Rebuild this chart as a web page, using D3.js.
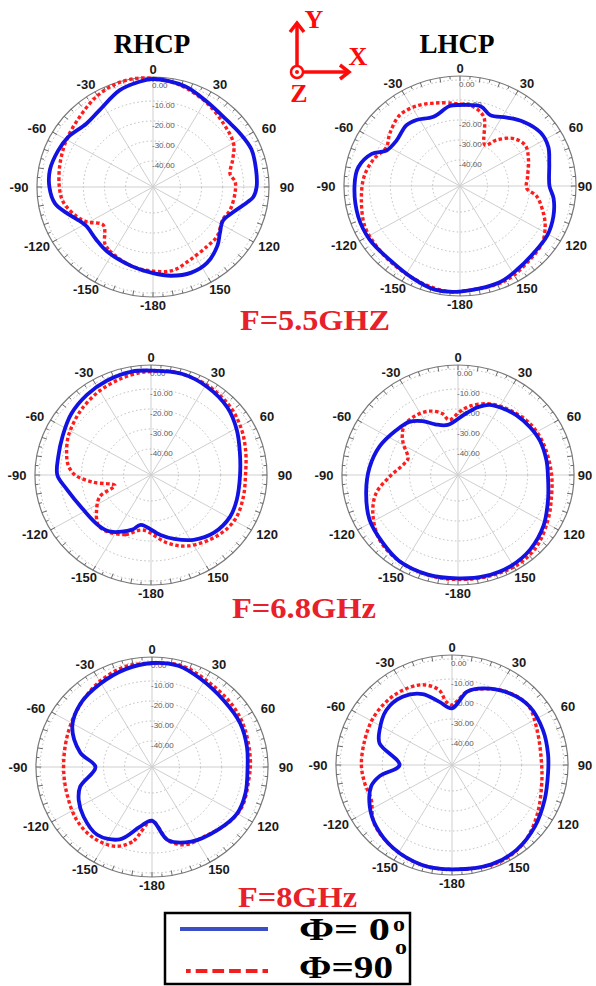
<!DOCTYPE html>
<html>
<head>
<meta charset="utf-8">
<script src="https://cdn.jsdelivr.net/npm/d3@7"></script>
<style>
  html, body { margin:0; padding:0; background:#fff; }
  svg { display:block; }
</style>
</head>
<body>
<div id="chart"></div>
<script>
// labels round each polar plot
var angleTicks = [0, 30, 60, 90, 120, 150, 180, -150, -120, -90, -60, -30];
var angleLabels = ["0", "30", "60", "90", "120", "150", "-180", "-150", "-120", "-90", "-60", "-30"];
var ringLevels = [0, -10, -20, -30, -40];
var ringLabels = ["0.00", "-10.00", "-20.00", "-30.00", "-40.00"];
var columnTitles = ["RHCP", "LHCP"];
var freqLabels = ["F=5.5GHZ", "F=6.8GHz", "F=8GHz"];
var legendLabels = ["\u03a6= 0", "\u03a6=90"];

// gain in dB against theta in degrees, [theta, dB]
var rhcp55_phi0 = [[-180,-9.9],[-166,-12.1],[-146,-14.1],[-134,-15.4],[-122,-15.9],[-118,-15],[-107.5,-10],[-100,-5.8],[-90,-3.9],[-80,-3.4],[-68,-4.5],[-58,-5.7],[-45,-8.3],[-34,-7.1],[-18,-2.1],[-7,0],[0,1],[17,-0.4],[31,-3.3],[47,-4.6],[57,-3.8],[68,-2.7],[80,-3.4],[90,-3.9],[96,-5.2],[100,-7.9],[108,-12.8],[117,-15.8],[126,-13.8],[134,-10.6],[146,-7.2],[157,-6.5],[169,-7.8]];
var rhcp55_phi90 = [[-166,-12.1],[-146,-15.3],[-141,-16.7],[-129,-22.7],[-119,-17.1],[-112,-13.9],[-100,-9.8],[-90,-8.6],[-75,-7.4],[-60,-5.7],[-45,-3.7],[-31,-0.5],[-20,1.3],[-10,1.9],[0,1.3],[9,0.3],[18,-1.2],[32,-4],[47,-7],[60.5,-9.1],[70,-12.8],[80,-15.9],[86,-14],[94,-14],[107.5,-14.7],[116,-16.1],[129,-13.9],[139,-13.8],[154,-12.6],[166,-10.4],[175,-10.5]];
var lhcp55_phi0 = [[-180,-0.2],[-167,0.2],[-154,-1.75],[-138,-3.3],[-122,-2.5],[-107.5,-2.4],[-90,-3],[-79,-3.9],[-69,-8.2],[-63,-13.9],[-53,-15.3],[-40,-13.4],[-32,-14.1],[-20,-16.2],[-7,-12.7],[0,-12.5],[14,-12],[22,-14.8],[33,-12.2],[43,-9],[55,-6.4],[65,-6.8],[75,-9.2],[90,-10.6],[98,-8.2],[109,-6.2],[121,-4.8],[134,-4.6],[147,-3.2],[159,-1.3]];
var lhcp55_phi90 = [[-180,-0.3],[-173,0.1],[-159,-1.3],[-141,-2.7],[-127,-3.25],[-114,-3.6],[-98,-5.8],[-84,-7.3],[-72,-9.9],[-61,-13.1],[-52,-10.7],[-39,-7.5],[-27,-8],[-15.6,-9.9],[-4.6,-11.5],[0,-12],[8,-12.6],[18,-16.6],[30,-29.3],[37,-24.2],[47,-18.2],[57,-16],[68,-18],[82,-20.7],[92,-21.4],[98,-16.3],[109,-11.2],[116.5,-7.9],[126,-4.8],[138,-3.4],[156,-1]];
var rhcp68_phi0 = [[-169,-27.6],[-162,-24.3],[-146,-18.8],[-136,-17.6],[-118,-16.5],[-100,-12.4],[-90,-8.6],[-78,-8.1],[-65,-6.8],[-51,-4.4],[-37,-2.7],[-24,-1.4],[-10,-0.5],[0,-0.8],[16,-0.35],[31,-1.5],[47,-3.5],[61,-6.5],[75,-9.4],[90,-10.8],[107,-10.5],[119,-10.1],[134,-11.5],[148,-14.8],[161,-19.2],[171.5,-22.7]];
var rhcp68_phi90 = [[-172,-25.2],[-158,-20.9],[-144,-18],[-135,-17.6],[-124,-21.9],[-114,-26.5],[-107,-35.1],[-97.6,-25.4],[-90,-17],[-83,-13.5],[-76,-11.8],[-65,-9.5],[-56,-8.2],[-45,-6.5],[-31,-4.5],[-17,-2.8],[-6,-1.6],[0,-1.3],[12,-0.3],[31,-0.85],[48,-2.3],[62.5,-4.5],[76,-6.7],[90,-8.2],[104,-7.9],[119,-7.35],[134,-9.3],[153.5,-13.4],[167,-18.1]];
var lhcp68_phi0 = [[-180,-1.3],[-164,-1.2],[-147,-1.75],[-133.5,-3.8],[-118,-5.5],[-101,-8.65],[-85,-10.9],[-69,-13.2],[-53,-16.1],[-41,-17.8],[-32,-21.2],[-23,-25.5],[-11,-27.5],[5,-22.9],[15,-18.1],[23,-14.9],[33,-13.45],[43,-12.25],[55,-11.3],[66,-10.55],[80,-10.45],[91,-10.35],[106,-8.6],[122,-5.2],[137.5,-2.4],[151.5,-1.05],[166,-0.85]];
var lhcp68_phi90 = [[-180,-0.8],[-165,-1],[-147,-1.75],[-131,-3.7],[-115,-8.45],[-103,-13.25],[-91.5,-20.6],[-77,-27],[-70.5,-27.9],[-58.7,-22.6],[-51.7,-19.4],[-45.3,-17.4],[-34,-17.1],[-23,-18.3],[-13.7,-21.4],[-8.6,-25.2],[1.5,-21.3],[9.6,-18],[23,-14.4],[37,-12.3],[53,-10.3],[68.5,-9.6],[89,-8.7],[106,-7.05],[117.5,-4.85],[133,-1.5],[147,0],[163,-0.3]];
var rhcp8_phi0 = [[-180,-26.2],[-169,-22.5],[-157,-13.7],[-142.5,-10.3],[-127.5,-12.15],[-115.6,-14.5],[-106,-17.6],[-90,-26.2],[-78,-18.2],[-62,-10.2],[-47,-6.6],[-30.5,-4.7],[-14.3,-2.5],[0,-1],[13.8,-0.9],[27.5,-3.3],[45.5,-5.45],[62.5,-5.85],[77.5,-6.9],[90,-7.7],[106.5,-6.8],[120,-6.45],[135.5,-8.8],[153.5,-11.35],[168.4,-15.7]];
var rhcp8_phi90 = [[-180,-26],[-166,-14.5],[-156,-9.65],[-142,-8],[-126.5,-8.55],[-108,-10.55],[-90,-11.1],[-69.5,-10],[-51.5,-7.55],[-32,-3.9],[-14,-1.2],[0,-1.3],[15,-0.4],[34,-2.95],[52.5,-4],[67.5,-5.15],[86,-6.25],[98,-6.7],[115,-5.9],[128.5,-7.5],[144.5,-10.3],[158,-11.05],[168.4,-15.6]];
var lhcp8_phi0 = [[-180,-0.8],[-163.8,-1.1],[-146,-3],[-130.5,-5.7],[-118,-8.85],[-105.5,-13.25],[-99.2,-18.25],[-90,-28.15],[-72.5,-17],[-63,-14.5],[-48.5,-11.5],[-34.5,-11.65],[-21.5,-14.9],[-11,-20.7],[0,-24.7],[11.1,-15.6],[21,-11.95],[37.5,-7.9],[51.5,-6],[68,-6.5],[83,-7.15],[95,-7.3],[111.5,-5.8],[128,-3.1],[144,-0.7],[159.4,0.1]];
var lhcp8_phi90 = [[-180,-0.8],[-163,-1.1],[-146,-3],[-128,-6],[-114.5,-10.95],[-102,-10.65],[-90,-10.05],[-73,-9.8],[-58,-8.85],[-44.5,-8.6],[-32,-8.9],[-19,-10.6],[-9.3,-15],[-5,-21.2],[0,-23],[11,-15.6],[22,-11.95],[35,-8.2],[50,-6.15],[64.5,-8.7],[86.8,-10.6],[104,-9.25],[122.5,-5.4],[139,-1.3],[156,0.5]];

var W = 596, H = 986;
var BLUE = "#1212e2", RED = "#ff1c1c", TXT_RED = "#e8202a";
var serif = "'Liberation Serif','Times New Roman',serif";
var sans = "'Liberation Sans',Arial,sans-serif";

var svg = d3.select("#chart").append("svg")
  .attr("width", W).attr("height", H)
  .style("background", "#fff");

// radius scale (vertical); the plots are a bit wider than tall
var rScale = d3.scaleLinear().domain([-53, 0]).range([0, 106]);
var outerR = 110, sx = 1.055;

var panels = [
  {cx: 153, cy: 187, phi0: rhcp55_phi0, phi90: rhcp55_phi90},
  {cx: 460, cy: 186, phi0: lhcp55_phi0, phi90: lhcp55_phi90},
  {cx: 151, cy: 475, phi0: rhcp68_phi0, phi90: rhcp68_phi90},
  {cx: 458, cy: 475, phi0: lhcp68_phi0, phi90: lhcp68_phi90},
  {cx: 152, cy: 767, phi0: rhcp8_phi0, phi90: rhcp8_phi90},
  {cx: 452, cy: 765, phi0: lhcp8_phi0, phi90: lhcp8_phi90}
];

function pt(p, deg, rad) {
  var a = deg * Math.PI / 180;
  return [p.cx + sx * rad * Math.sin(a), p.cy - rad * Math.cos(a)];
}

panels.forEach(function(p) {
  var g = svg.append("g");

  // spokes
  g.selectAll("line.spoke").data(d3.range(0, 360, 30)).enter().append("line")
    .attr("x1", p.cx).attr("y1", p.cy)
    .attr("x2", function(d) { return pt(p, d, outerR)[0]; })
    .attr("y2", function(d) { return pt(p, d, outerR)[1]; })
    .attr("stroke", "#cfcfcf").attr("stroke-width", 1);

  // dotted dB rings
  g.selectAll("ellipse.ring").data(ringLevels).enter().append("ellipse")
    .attr("cx", p.cx).attr("cy", p.cy)
    .attr("rx", function(d) { return sx * rScale(d); })
    .attr("ry", function(d) { return rScale(d); })
    .attr("fill", "none").attr("stroke", "#bdbdbd")
    .attr("stroke-width", 1).attr("stroke-dasharray", "1.5,2.5");

  // outer frame and ticks
  g.append("ellipse")
    .attr("cx", p.cx).attr("cy", p.cy)
    .attr("rx", sx * outerR).attr("ry", outerR)
    .attr("fill", "none").attr("stroke", "#7a7a7a").attr("stroke-width", 1.2);

  g.selectAll("line.tick").data(d3.range(0, 360, 5)).enter().append("line")
    .attr("x1", function(d) { return pt(p, d, outerR)[0]; })
    .attr("y1", function(d) { return pt(p, d, outerR)[1]; })
    .attr("x2", function(d) { return pt(p, d, outerR - (d % 10 === 0 ? 5 : 3))[0]; })
    .attr("y2", function(d) { return pt(p, d, outerR - (d % 10 === 0 ? 5 : 3))[1]; })
    .attr("stroke", "#6a6a6a").attr("stroke-width", 1);

  // ring labels
  g.selectAll("text.rl").data(ringLevels).enter().append("text")
    .attr("x", p.cx - 1)
    .attr("y", function(d) { return p.cy - rScale(d) + 7; })
    .attr("font-family", sans).attr("font-size", 8)
    .attr("fill", "#5a5a5a")
    .text(function(d, i) { return ringLabels[i]; });

  // angle labels (kept inside the page on the right edge)
  g.selectAll("text.al").data(angleTicks).enter().append("text")
    .attr("x", function(d) { return Math.min(p.cx + 134 * Math.sin(d * Math.PI / 180), W - 11); })
    .attr("y", function(d) { return p.cy - 118 * Math.cos(d * Math.PI / 180); })
    .attr("dy", "0.36em")
    .attr("text-anchor", "middle")
    .attr("font-family", sans).attr("font-size", 13).attr("font-weight", "bold")
    .attr("fill", "#1a1a1a")
    .text(function(d, i) { return angleLabels[i]; });

  var line = d3.line()
    .x(function(d) { return pt(p, d[0], rScale(d[1]))[0]; })
    .y(function(d) { return pt(p, d[0], rScale(d[1]))[1]; })
    .curve(d3.curveCatmullRomClosed.alpha(0.5));

  g.append("path").datum(p.phi90).attr("d", line)
    .attr("fill", "none").attr("stroke", RED)
    .attr("stroke-width", 3.4).attr("stroke-dasharray", "3.5,2.5");

  g.append("path").datum(p.phi0).attr("d", line)
    .attr("fill", "none").attr("stroke", BLUE)
    .attr("stroke-width", 3.8).attr("stroke-linejoin", "round");
});

// column titles
svg.selectAll("text.title").data(columnTitles).enter().append("text")
  .attr("x", function(d, i) { return [152, 457][i]; })
  .attr("y", 53)
  .attr("text-anchor", "middle")
  .attr("font-family", serif).attr("font-weight", "bold").attr("font-size", 27)
  .attr("fill", "#000")
  .text(function(d) { return d; });

// frequency captions
svg.selectAll("text.freq").data(freqLabels).enter().append("text")
  .attr("x", function(d, i) { return [240, 232, 238][i]; })
  .attr("y", function(d, i) { return [330, 618, 907][i]; })
  .attr("textLength", function(d, i) { return [150, 144, 119][i]; })
  .attr("lengthAdjust", "spacingAndGlyphs")
  .attr("font-family", serif).attr("font-weight", "bold").attr("font-size", 29)
  .attr("fill", TXT_RED)
  .text(function(d) { return d; });

// coordinate axes icon
var ax = svg.append("g").attr("stroke", "#ff0a0a").attr("fill", "none")
  .attr("stroke-width", 3.5).attr("stroke-linecap", "butt");
ax.append("line").attr("x1", 297).attr("y1", 65).attr("x2", 297).attr("y2", 23);
ax.append("polyline").attr("points", "290,32 297,23 304,32").attr("stroke-linejoin", "miter");
ax.append("line").attr("x1", 304).attr("y1", 72).attr("x2", 348).attr("y2", 72);
ax.append("polyline").attr("points", "340,65 349,72 340,79").attr("stroke-linejoin", "miter");
ax.append("circle").attr("cx", 297).attr("cy", 72).attr("r", 6).attr("stroke-width", 2.5);
svg.append("circle").attr("cx", 297).attr("cy", 72).attr("r", 2).attr("fill", "#ff0a0a");
svg.selectAll("text.axl").data(["Y", "X", "Z"]).enter().append("text")
  .attr("x", function(d, i) { return [314, 358, 299][i]; })
  .attr("y", function(d, i) { return [28, 65, 102][i]; })
  .attr("text-anchor", "middle")
  .attr("font-family", serif).attr("font-weight", "bold").attr("font-size", 26)
  .attr("fill", "#ff0a0a")
  .text(function(d) { return d; });

// legend
var lg = svg.append("g");
lg.append("rect").attr("x", 165).attr("y", 913).attr("width", 245).attr("height", 71)
  .attr("fill", "#fff").attr("stroke", "#000").attr("stroke-width", 2.5);
lg.append("line").attr("x1", 180).attr("y1", 929).attr("x2", 268).attr("y2", 929)
  .attr("stroke", "#3b4ec6").attr("stroke-width", 4);
lg.append("line").attr("x1", 186).attr("y1", 971).attr("x2", 268).attr("y2", 971)
  .attr("stroke", "#f01e1e").attr("stroke-width", 4)
  .attr("stroke-dasharray", "11.7,5").attr("stroke-dashoffset", 7);
lg.selectAll("text.lt").data(legendLabels).enter().append("text")
  .attr("x", 299)
  .attr("y", function(d, i) { return [940, 978][i]; })
  .attr("textLength", function(d, i) { return [91, 94][i]; })
  .attr("lengthAdjust", "spacingAndGlyphs")
  .attr("font-family", serif).attr("font-weight", "bold").attr("font-size", 32)
  .attr("fill", "#000")
  .text(function(d) { return d; });
lg.selectAll("text.deg").data(legendLabels).enter().append("text")
  .attr("x", function(d, i) { return [393, 395][i]; })
  .attr("y", function(d, i) { return [931, 954][i]; })
  .attr("textLength", 12).attr("lengthAdjust", "spacingAndGlyphs")
  .attr("font-family", serif).attr("font-weight", "bold").attr("font-size", 22)
  .attr("fill", "#000")
  .text("o");
</script>
</body>
</html>
